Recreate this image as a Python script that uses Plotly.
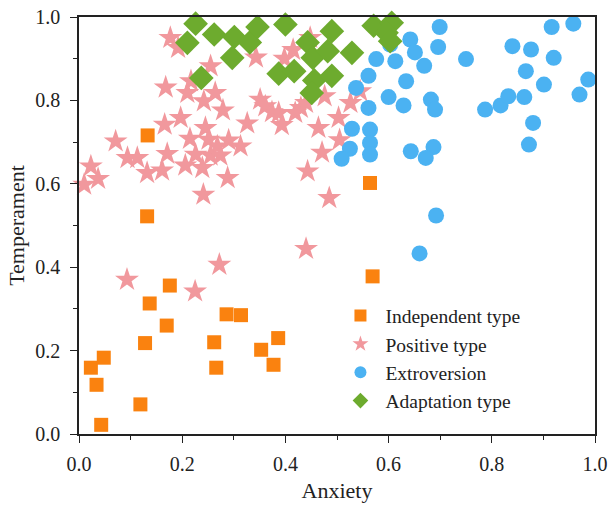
import plotly.graph_objects as go

# Independent type (orange squares)
ind_x = [0.133, 0.132, 0.564, 0.569, 0.176, 0.137, 0.170, 0.128, 0.286, 0.314,
         0.262, 0.266, 0.353, 0.386, 0.377, 0.023, 0.048, 0.034, 0.119, 0.043]
ind_y = [0.716, 0.522, 0.602, 0.378, 0.356, 0.313, 0.260, 0.218, 0.287, 0.285,
         0.220, 0.159, 0.202, 0.230, 0.166, 0.159, 0.183, 0.118, 0.071, 0.022]

# Positive type (pink stars)
pos_x = [0.177, 0.192, 0.343, 0.255, 0.398, 0.415, 0.448, 0.217, 0.168, 0.210,
         0.264, 0.242, 0.279, 0.351, 0.361, 0.374, 0.419, 0.430, 0.440, 0.476,
         0.503, 0.197, 0.166, 0.245, 0.326, 0.393, 0.464, 0.071, 0.215, 0.251,
         0.290, 0.313, 0.268, 0.505, 0.094, 0.113, 0.171, 0.226, 0.255, 0.274,
         0.471, 0.023, 0.037, 0.010, 0.132, 0.161, 0.206, 0.239, 0.288, 0.443,
         0.241, 0.485, 0.440, 0.093, 0.272, 0.225, 0.526, 0.545, 0.387]
pos_y = [0.950, 0.926, 0.903, 0.882, 0.900, 0.921, 0.950, 0.846, 0.831, 0.818,
         0.818, 0.798, 0.776, 0.802, 0.786, 0.772, 0.770, 0.782, 0.794, 0.810,
         0.758, 0.758, 0.742, 0.734, 0.745, 0.741, 0.734, 0.702, 0.708, 0.706,
         0.704, 0.690, 0.690, 0.705, 0.662, 0.662, 0.672, 0.670, 0.668, 0.668,
         0.675, 0.642, 0.612, 0.598, 0.626, 0.632, 0.644, 0.638, 0.614, 0.630,
         0.574, 0.566, 0.444, 0.370, 0.406, 0.342, 0.794, 0.822, 0.770]

# Extroversion (blue circles)
ext_x = [0.699, 0.696, 0.642, 0.651, 0.669, 0.603, 0.576, 0.613, 0.561, 0.634,
         0.537, 0.600, 0.629, 0.682, 0.690, 0.561, 0.529, 0.564, 0.564, 0.525,
         0.564, 0.509, 0.643, 0.687, 0.672, 0.750, 0.787, 0.817, 0.832, 0.863,
         0.866, 0.840, 0.876, 0.920, 0.901, 0.916, 0.958, 0.987, 0.970, 0.880,
         0.872, 0.692, 0.660]
ext_y = [0.976, 0.928, 0.946, 0.915, 0.883, 0.934, 0.899, 0.894, 0.859, 0.846,
         0.830, 0.808, 0.788, 0.802, 0.778, 0.782, 0.732, 0.730, 0.698, 0.684,
         0.670, 0.660, 0.678, 0.688, 0.662, 0.899, 0.778, 0.788, 0.810, 0.808,
         0.870, 0.930, 0.922, 0.902, 0.838, 0.976, 0.984, 0.850, 0.814, 0.746,
         0.694, 0.524, 0.433]

# Adaptation type (green diamonds)
ada_x = [0.226, 0.210, 0.262, 0.301, 0.331, 0.346, 0.400, 0.297, 0.237, 0.443,
         0.453, 0.482, 0.490, 0.387, 0.417, 0.456, 0.451, 0.490, 0.529, 0.571,
         0.606, 0.596, 0.603]
ada_y = [0.984, 0.938, 0.958, 0.952, 0.939, 0.976, 0.982, 0.902, 0.854, 0.939,
         0.902, 0.918, 0.966, 0.864, 0.870, 0.848, 0.818, 0.859, 0.914, 0.979,
         0.986, 0.962, 0.942]

tick_vals = [0.0, 0.2, 0.4, 0.6, 0.8, 1.0]
tick_text = ["0.0", "0.2", "0.4", "0.6", "0.8", "1.0"]

FONT = "Liberation Serif"

fig = go.Figure()
fig.add_trace(go.Scatter(x=ind_x, y=ind_y, mode="markers", name="Independent type",
                         marker=dict(symbol="square", size=14, color="#FA820F",
                                     line=dict(width=0)), cliponaxis=False))
fig.add_trace(go.Scatter(x=pos_x, y=pos_y, mode="markers", name="Positive type",
                         marker=dict(symbol="star", size=18, color="#F1989D",
                                     line=dict(width=0)), cliponaxis=False))
fig.add_trace(go.Scatter(x=ext_x, y=ext_y, mode="markers", name="Extroversion",
                         marker=dict(symbol="circle", size=16, color="#4BB2F2",
                                     line=dict(width=0)), cliponaxis=False))
fig.add_trace(go.Scatter(x=ada_x, y=ada_y, mode="markers", name="Adaptation type",
                         marker=dict(symbol="diamond", size=19, color="#6DAB2E",
                                     line=dict(width=0)), cliponaxis=False))

axis_common = dict(
    range=[0, 1], tickvals=tick_vals, ticktext=tick_text,
    ticks="outside", ticklen=7, tickwidth=1.3, tickcolor="#222",
    showline=True, linecolor="#222", linewidth=1.5, mirror=True,
    showgrid=False, zeroline=False, automargin=False,
    tickfont=dict(family=FONT, size=20, color="#222"),
    minor=dict(dtick=0.1, tick0=0, ticks="outside", ticklen=4, tickwidth=1.2, tickcolor="#222"),
)

fig.update_layout(
    width=611, height=511,
    margin=dict(l=79, r=16, t=17, b=77),
    plot_bgcolor="white", paper_bgcolor="white",
    font=dict(family=FONT, color="#222"),
    xaxis=dict(axis_common, ticklabelstandoff=4,
               title=dict(text="Anxiety", font=dict(family=FONT, size=22), standoff=9)),
    yaxis=dict(axis_common, ticklabelstandoff=6,
               title=dict(text="Temperament", font=dict(family=FONT, size=22), standoff=5)),
    legend=dict(x=0.497, y=0.33, xanchor="left", yanchor="top",
                bgcolor="rgba(0,0,0,0)", borderwidth=0,
                font=dict(family=FONT, size=19.5, color="#222"),
                itemsizing="constant", itemwidth=40, tracegroupgap=0),
    showlegend=True,
)

fig.write_html("out.html")
